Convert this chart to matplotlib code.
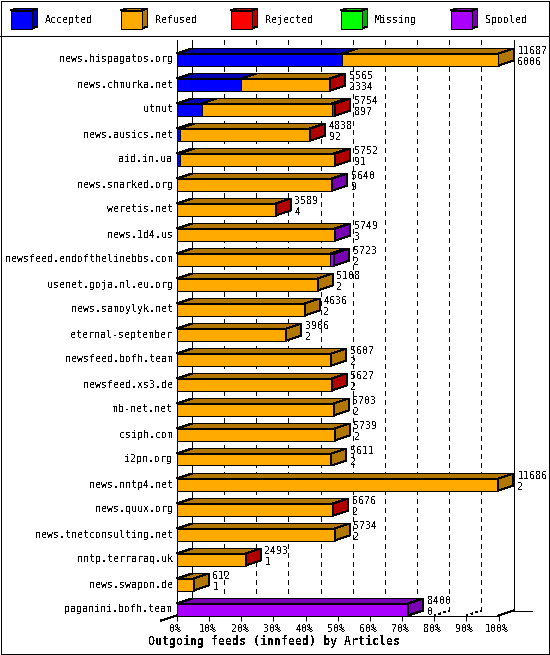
import matplotlib
matplotlib.use("Agg")
import matplotlib.pyplot as plt
from matplotlib.patches import Polygon, Rectangle
from matplotlib.transforms import ScaledTranslation

hosts = ["news.hispagatos.org", "news.chmurka.net", "utnut", "news.ausics.net", "aid.in.ua",
         "news.snarked.org", "weretis.net", "news.1d4.us", "newsfeed.endofthelinebbs.com",
         "usenet.goja.nl.eu.org", "news.samoylyk.net", "eternal-september", "newsfeed.bofh.team",
         "newsfeed.xs3.de", "mb-net.net", "csiph.com", "i2pn.org", "news.nntp4.net", "news.quux.org",
         "news.tnetconsulting.net", "nntp.terraraq.uk", "news.swapon.de", "paganini.bofh.team"]
totals = [11687, 5565, 5754, 4838, 5752, 5640, 3589, 5749, 5723, 5108, 4636, 3966, 5607, 5627,
          5703, 5739, 5611, 11686, 5676, 5734, 2493, 612, 8400]
accepted = [6006, 2334, 897, 92, 91, 9, 4, 3, 2, 2, 2, 2, 2, 2, 2, 2, 2, 2, 2, 2, 1, 1, 0]
rejected = [0, 20, 130, 15, 50, 0, 15, 0, 0, 0, 0, 0, 0, 15, 0, 0, 0, 0, 15, 0, 15, 0, 0]
missing = [0] * 23
spooled = [0, 0, 0, 0, 0, 15, 0, 15, 145, 0, 0, 0, 0, 0, 0, 0, 0, 0, 0, 0, 0, 0, 8400]
refused = [t - a - r - m - s for t, a, r, m, s in zip(totals, accepted, rejected, missing, spooled)]
series = ["Accepted", "Refused", "Rejected", "Missing", "Spooled"]
series_values = [accepted, refused, rejected, missing, spooled]
face = ["#0000FF", "#FFAA00", "#FF0000", "#00FF00", "#AA00FF"]
dark = ["#0000B2", "#B27700", "#B20000", "#00B200", "#7700B2"]
pct_ticks = list(range(0, 101, 10))
title = "Outgoing feeds (innfeed) by Articles"

plt.rcParams.update({"font.family": ["DejaVu Sans Mono"], "font.size": 7.2,
                     "text.antialiased": False, "lines.antialiased": False, "patch.antialiased": False,
                     "axes.linewidth": 0.72, "lines.linewidth": 0.72, "patch.linewidth": 0.72})
W, H = 550, 655
fig = plt.figure(figsize=(W / 100, H / 100), dpi=100, facecolor="white")

# page furniture, in pixels
ov = fig.add_axes([0, 0, 1, 1], zorder=0)
ov.set_xlim(0, W); ov.set_ylim(H, 0); ov.axis("off")
ov.add_patch(Rectangle((0.5, 0.5), W - 1.5, H - 1.5, fc="none", ec="black", lw=0.72))
ov.plot([0, W], [35.5, 35.5], color="black")
for i, name in enumerate(series):
    x = 10.5 + 110 * i
    ov.add_patch(Polygon([(x + 21, 10.5), (x + 27, 8.5), (x + 27, 26.5), (x + 21, 28.5)], fc=dark[i], ec="black"))
    ov.add_patch(Polygon([(x, 10.5), (x + 6, 8.5), (x + 27, 8.5), (x + 21, 10.5)], fc=dark[i], ec="black"))
    ov.add_patch(Rectangle((x, 10.5), 21, 18, fc=face[i], ec="black"))
    ov.text(x + 34.5, 20, name, va="center", ha="left", color="black")

# plot plane: front face of the chart
x0, x1, ybot, ytop = 177, 498.5, 615.5, 40
ax = fig.add_axes([x0 / W, 1 - ybot / H, (x1 - x0) / W, (ybot - ytop) / H], zorder=1)
ax.patch.set_alpha(0)
pxx = (x1 - x0) / 100
pxy = 25.0
DX, DY = 15 / pxx, -5 / pxy
ax.set_xlim(0, 100)
ax.set_ylim((ybot - 59.5) / pxy, (ytop - 59.5) / pxy)
for s in ("top", "right"):
    ax.spines[s].set_visible(False)
ax.set_xticks(pct_ticks, [f"{p}%" for p in pct_ticks])
ax.set_yticks(range(len(hosts)), hosts)
ax.tick_params(axis="x", length=3.6, width=0.72, pad=2.6, labelsize=7.2)
ax.tick_params(axis="y", length=0, pad=3.2, labelsize=7.2)
for lab in ax.get_yticklabels():
    lab.set_transform(lab.get_transform() + ScaledTranslation(0, 1 / 100, fig.dpi_scale_trans))
for lab in ax.get_xticklabels():
    lab.set_transform(lab.get_transform() + ScaledTranslation(-1.5 / 100, 0, fig.dpi_scale_trans))
ax.set_xlabel(title, fontweight="bold", fontsize=8.4)
ax.xaxis.set_label_coords((274 - x0) / (x1 - x0), -(641.5 - ybot) / (ybot - ytop))
ax.xaxis.label.set_verticalalignment("center")

yb, yt = ax.get_ylim()
for p in pct_ticks:
    solid = p in (0, 100)
    ax.plot([p + DX, p + DX], [yb + DY, yt], color="black", clip_on=False, zorder=1,
            ls="-" if solid else (0, (5, 5)))
    if p:
        ax.plot([p, p + DX], [yb, yb + DY], color="black", clip_on=False, zorder=1,
                ls="-" if solid else (0, (2, 3)))
ax.plot([100 + DX, 100 + DX + 18 / pxx], [yb + DY, yb + DY], color="black", clip_on=False, zorder=1)
ax.plot([0, -16 / pxx], [yb, yb - DY], color="black", clip_on=False, zorder=1)

scale = 100 / max(totals)
half = 6 / pxy
for row in range(len(hosts)):
    left = 0.0
    last = None
    for i in range(len(series)):
        v = series_values[i][row]
        if not v:
            continue
        right = left + v * scale
        top = row - half
        ax.add_patch(Polygon([(left, top), (right, top), (right + DX, top + DY), (left + DX, top + DY)],
                             fc=dark[i], ec="black", clip_on=False, zorder=2))
        ax.add_patch(Rectangle((left, top), right - left, 2 * half, fc=face[i], ec="black",
                               clip_on=False, zorder=3))
        left, last = right, i
    top = row - half
    ax.add_patch(Polygon([(left, top), (left + DX, top + DY), (left + DX, top + 2 * half + DY), (left, top + 2 * half)],
                         fc=dark[last], ec="black", clip_on=False, zorder=3))
    ax.annotate(str(totals[row]), (left + DX, row), xytext=(2.8, 6.0), textcoords="offset points",
                va="center", ha="left", annotation_clip=False, zorder=5)
    ax.annotate(str(accepted[row]), (left + DX, row), xytext=(2.8, -1.9), textcoords="offset points",
                va="center", ha="left", annotation_clip=False, zorder=5)

fig.savefig("out.png", dpi=100, facecolor="white")
